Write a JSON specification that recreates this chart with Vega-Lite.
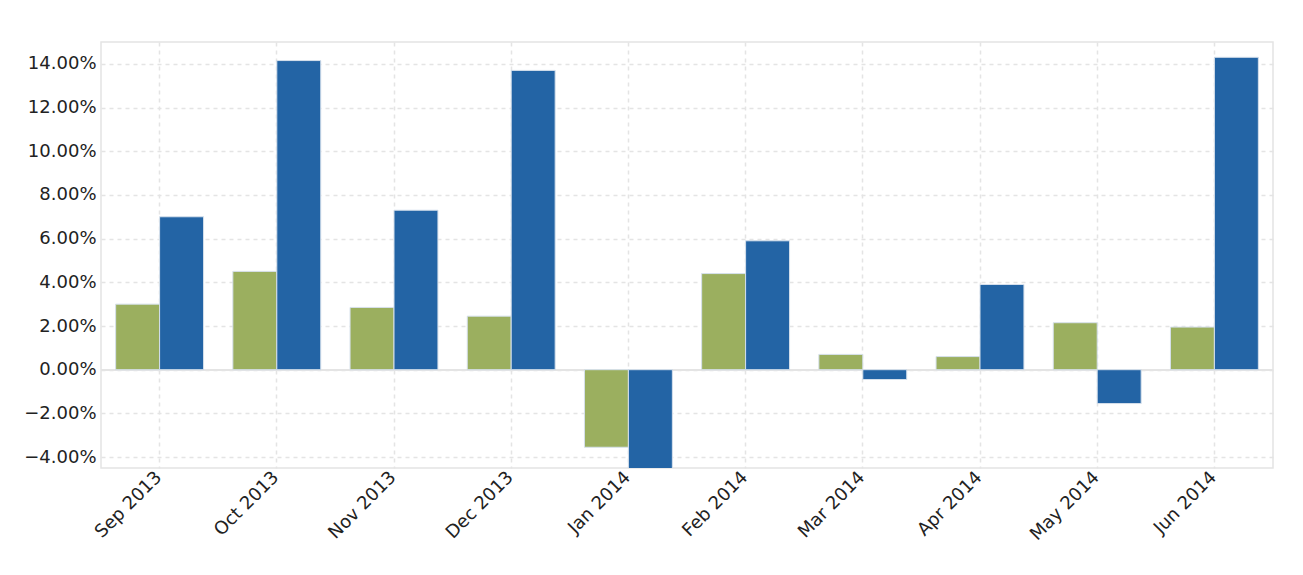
{
  "$schema": "https://vega.github.io/schema/vega-lite/v6.json",
  "width": 1172,
  "height": 426,
  "autosize": "none",
  "padding": {"left": 101, "top": 42, "right": 30, "bottom": 107},
  "background": "white",
  "config": {
    "view": {"stroke": "#e4e4e4", "strokeWidth": 1.5},
    "font": "DejaVu Sans"
  },
  "data": {
    "values": [
      {"month": "Sep 2013", "series": "A", "value": 0.0300},
      {"month": "Sep 2013", "series": "B", "value": 0.0700},
      {"month": "Oct 2013", "series": "A", "value": 0.0450},
      {"month": "Oct 2013", "series": "B", "value": 0.1415},
      {"month": "Nov 2013", "series": "A", "value": 0.0285},
      {"month": "Nov 2013", "series": "B", "value": 0.0730},
      {"month": "Dec 2013", "series": "A", "value": 0.0245},
      {"month": "Dec 2013", "series": "B", "value": 0.1370},
      {"month": "Jan 2014", "series": "A", "value": -0.0355},
      {"month": "Jan 2014", "series": "B", "value": -0.0460},
      {"month": "Feb 2014", "series": "A", "value": 0.0440},
      {"month": "Feb 2014", "series": "B", "value": 0.0590},
      {"month": "Mar 2014", "series": "A", "value": 0.0070},
      {"month": "Mar 2014", "series": "B", "value": -0.0045},
      {"month": "Apr 2014", "series": "A", "value": 0.0060},
      {"month": "Apr 2014", "series": "B", "value": 0.0390},
      {"month": "May 2014", "series": "A", "value": 0.0215},
      {"month": "May 2014", "series": "B", "value": -0.0155},
      {"month": "Jun 2014", "series": "A", "value": 0.0195},
      {"month": "Jun 2014", "series": "B", "value": 0.1430}
    ]
  },
  "layer": [
    {
      "mark": {"type": "rule", "color": "#e4e4e4", "strokeWidth": 1.5},
      "encoding": {"y": {"datum": 0, "type": "quantitative"}}
    },
    {
      "mark": {"type": "bar", "stroke": "#d6e0ec", "strokeWidth": 1, "clip": true},
      "encoding": {
        "x": {
          "field": "month",
          "type": "nominal",
          "sort": null,
          "scale": {"paddingInner": 0.25, "paddingOuter": 0.125},
          "axis": {
            "title": null,
            "labelAngle": -45,
            "labelAlign": "right",
            "labelBaseline": "top",
            "labelFontSize": 18,
            "labelColor": "#222222",
            "labelPadding": 0,
            "labelOffset": -7,
            "ticks": false,
            "domain": false,
            "grid": true,
            "bandPosition": 0.5,
            "gridColor": "#e4e4e4",
            "gridDash": [4, 4],
            "gridWidth": 1.5
          }
        },
        "xOffset": {"field": "series", "sort": ["A", "B"]},
        "y": {
          "field": "value",
          "type": "quantitative",
          "scale": {"domain": [-0.045, 0.15], "nice": false, "zero": false},
          "axis": {
            "title": null,
            "values": [-0.04, -0.02, 0, 0.02, 0.04, 0.06, 0.08, 0.10, 0.12, 0.14],
            "format": ".2%",
            "labelFontSize": 18,
            "labelColor": "#222222",
            "labelPadding": 5,
            "ticks": false,
            "domain": false,
            "grid": true,
            "gridColor": "#e4e4e4",
            "gridDash": [4, 4],
            "gridWidth": 1.5
          }
        },
        "color": {
          "field": "series",
          "type": "nominal",
          "scale": {"domain": ["A", "B"], "range": ["#9BAF5F", "#2364A5"]},
          "legend": null
        }
      }
    }
  ]
}
